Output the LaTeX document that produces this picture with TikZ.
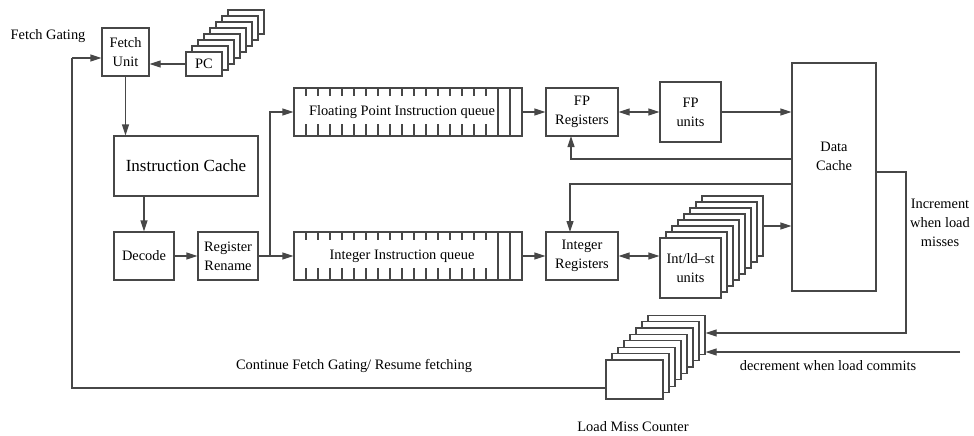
\documentclass[tikz,border=0pt]{standalone}
\usepackage{fontspec}
\setmainfont{Liberation Serif}
\usetikzlibrary{arrows.meta,calc}
\begin{document}
\begin{tikzpicture}[x=1pt,y=-1pt,
  every node/.style={font=\fontsize{14.4}{19}\selectfont, text=black},
  box/.style={draw=black!72, line width=1.2pt, fill=white, inner sep=0pt, align=center},
  wire/.style={draw=black!72, line width=1.2pt},
  tip/.tip={Triangle[length=11pt,width=7pt]},
  arr/.style={wire, -tip},
  dbl/.style={wire, tip-tip},
  lbl/.style={inner sep=0pt, align=center}]
\useasboundingbox (0,0) rectangle (974,436);

% ---- front end ----
\node[box, minimum width=47, minimum height=48] (fetch) at (125.5,52) {Fetch\\Unit};
\foreach \k in {7,...,1}
  \node[box, minimum width=36, minimum height=24] (pc\k) at (204+6*\k,64-6*\k) {};
\node[box, minimum width=36, minimum height=24] (pc) at (204,64) {PC};

\node[box, minimum width=144, minimum height=60, font=\fontsize{17}{20}\selectfont] (icache) at (186,166) {Instruction Cache};
\node[box, minimum width=60, minimum height=48] (decode) at (144,256) {Decode};
\node[box, minimum width=60, minimum height=48] (rename) at (228,256) {Register\\Rename};

% ---- instruction queues ----
\node[box, minimum width=228, minimum height=48] (fpq) at (408,112) {};
\node[box, minimum width=228, minimum height=48] (intq) at (408,256) {};
\foreach \k in {1,...,16} {
  \draw[wire] (294+12*\k,88) -- ++(0,8);
  \draw[wire] (294+12*\k,136) -- ++(0,-12);
  \draw[wire] (294+12*\k,232) -- ++(0,8);
  \draw[wire] (294+12*\k,280) -- ++(0,-12);
}
\foreach \x in {498,510} {
  \draw[wire] (\x,88) -- (\x,136);
  \draw[wire] (\x,232) -- (\x,280);
}
\node[lbl] (fpqlabel) at (402,112) {Floating Point Instruction queue};
\node[lbl] (intqlabel) at (402,256) {Integer Instruction queue};

% ---- registers and units ----
\node[box, minimum width=72, minimum height=48] (fpreg) at (582,112) {FP\\Registers};
\node[box, minimum width=61, minimum height=60] (fpu) at (690.5,112) {FP\\units};
\node[box, minimum width=72, minimum height=48] (intreg) at (582,256) {Integer\\Registers};
\foreach \k in {7,...,1}
  \node[box, minimum width=61, minimum height=60] (intu\k) at (690.5+6*\k,268-6*\k) {};
\node[box, minimum width=61, minimum height=60] (intu) at (690.5,268) {Int/ld\textendash st\\units};

\node[box, minimum width=84, minimum height=228] (dcache) at (834,177) {};
\node[lbl] (dclabel) at (834,156) {Data\\Cache};

% ---- load miss counter ----
\foreach \k in {7,...,1}
  \node[box, minimum width=57, minimum height=39] (lmc\k) at (634.5+6*\k,379.5-6.4*\k) {};
\node[box, minimum width=57, minimum height=39] (lmc) at (634.5,379.5) {};

% ---- connectors ----
\draw[arr] (pc.west) -- (pc.west -| fetch.east);
\draw[arr] (fetch.south) -- (fetch.south |- icache.north);
\draw[arr] (decode.north |- icache.south) -- (decode.north);
\draw[arr] (decode.east) -- (rename.west);
\draw[arr] (rename.east) -- (intq.west);
\coordinate (split) at (270,256);
\draw[arr] (split) |- (fpq.west);
\draw[arr] (fpq.east) -- (fpreg.west);
\draw[arr] (intq.east) -- (intreg.west);
\draw[dbl] (fpreg.east) -- (fpu.west);
\draw[dbl] (intreg.east) -- (intreg.east -| intu.west);
\draw[arr] (fpu.east) -- (fpu.east -| dcache.west);
\draw[arr] (intu7.east) -- (intu7.east -| dcache.west);

\coordinate (fpback) at (792,159);
\coordinate (intback) at (792,184);
\draw[arr] (fpback) -| (571,136);
\draw[arr] (intback) -| (570,232);

\coordinate (missout) at (876,172);
\coordinate (misscorner) at (906,172);
\draw[arr] (missout) -- (misscorner) |- (lmc7.east |- 0,333);
\coordinate (decsrc) at (960,352);
\draw[arr] (decsrc) -- (decsrc -| lmc7.east);

\coordinate (loopcorner) at (72,58);
\draw[wire] (lmc.west |- 0,388) -| (loopcorner);
\draw[arr] (loopcorner) -- (loopcorner -| fetch.west);

% ---- free labels ----
\node[lbl] (fg) at (48,36) {Fetch Gating};
\node[lbl] (resume) at (354,366) {Continue Fetch Gating/ Resume fetching};
\node[lbl] (dec) at (828,366) {decrement when load commits};
\node[lbl] (inc) at (940,223) {Increment\\when load\\misses};
\node[lbl] (lmclabel) at (633,427) {Load Miss Counter};
\end{tikzpicture}
\end{document}
